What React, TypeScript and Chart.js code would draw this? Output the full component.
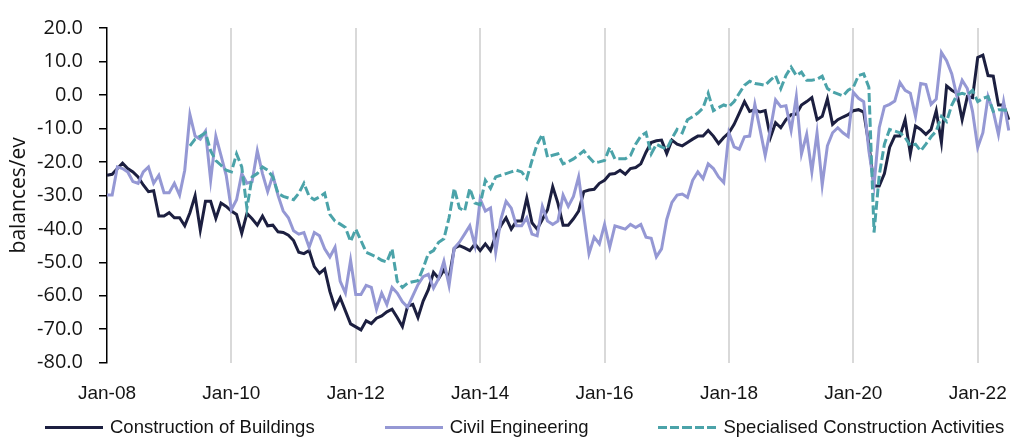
import React, { useEffect, useRef } from "react";
import { Chart, registerables } from "chart.js";

Chart.register(...registerables);

// ---------- categories (monthly, Jan-08 .. Jul-22) ----------
const MONTH_NAMES = ["Jan", "Feb", "Mar", "Apr", "May", "Jun", "Jul", "Aug", "Sep", "Oct", "Nov", "Dec"];
const FIRST_YEAR = 2008;
const MONTH_COUNT = 175;
const categories: string[] = [];
for (let i = 0; i < MONTH_COUNT; i++) {
  const yy = String((FIRST_YEAR + Math.floor(i / 12)) % 100).padStart(2, "0");
  categories.push(`${MONTH_NAMES[i % 12]}-${yy}`);
}
const LABEL_EVERY = 24;

// ---------- series ----------
const seriesNames = ["Construction of Buildings", "Civil Engineering", "Specialised Construction Activities"];

const constructionOfBuildings: (number | null)[] = [
  -24, -23.7, -22, -20.4, -22, -23, -24.5, -26.9, -28.9, -28.6, -36.2, -36.2,
  -35.2, -36.7, -36.7, -39.1, -35.2, -30.1, -40.4, -31.8, -31.8, -36.9, -32.3, -33.3,
  -34.7, -35.7, -41.3, -35.4, -37, -38.9, -36.2, -39.1, -38.9, -40.9, -41.1, -41.9,
  -43.5, -47, -47.4, -46.5, -51.3, -53.3, -52, -58.7, -63.6, -60.6, -64.5, -68.4,
  -69.3, -70.2, -67.5, -68.3, -66.7, -66, -64.8, -64, -66.5, -69.2, -63.1, -62.6,
  -66.5, -61.6, -58.2, -53, -54.8, -52.3, -54.6, -45.8, -45, -45.7, -46.5, -44.5,
  -46.5, -44.5, -46.5, -42, -39.1, -36.7, -40.1, -37.7, -37.7, -30.8, -38.2, -40.1,
  -37.2, -34.3, -27.4, -32.3, -38.9, -38.9, -37, -34.7, -28.9, -28.4, -28.2, -26.4,
  -25.5, -23.7, -23.5, -22.5, -23.7, -22, -21.7, -20.6, -17.1, -14.2, -13.7, -13.5,
  -17.5, -13.5, -14.7, -15.2, -14.2, -13.2, -12.3, -12.3, -10.6, -12.3, -14.5, -12.7,
  -11.3, -8.8, -5.4, -2.0, -4.9, -4.4, -5.1, -4.7, -12.7, -8.3, -9.8, -7.4,
  -5.9, -5.7, -3.0, -2.0, -0.8, -7.4, -6.4, -1.2, -8.8, -7.4, -6.6, -5.9,
  -4.7, -4.4, -5.1, -14.7, -27.2, -27.2, -23.5, -15.7, -12.3, -12.3, -7.4, -17.6,
  -9.3, -10.3, -11.8, -10.3, -4.7, -14.2, 2.7, 1.4, 0.5, -7.4, -0.5, -0.8,
  11.2, 11.9, 5.8, 5.6, -3.0, -3.0, -7.4,
];

const civilEngineering: (number | null)[] = [
  -29.9, -29.9, -21.5, -22, -23, -25.9, -26.4, -23, -21.5, -26.4, -24, -29.2,
  -29.2, -26.4, -29.9, -22.5, -5.9, -12.3, -13.2, -10.8, -25.5, -12.3, -18.1, -24,
  -34.3, -31.3, -23.5, -26.4, -25.9, -16.7, -23.5, -28.9, -24, -30, -34.7, -36.7,
  -40.6, -41.6, -41.1, -45.5, -41.1, -42.1, -46, -48.4, -45.5, -55.7, -59.2, -49.4,
  -59.6, -59.6, -56.9, -57.5, -64, -59.2, -62.6, -57.5, -59.2, -61.8, -63.4, -60,
  -56.7, -54.3, -53.6, -57.7, -54.8, -49.7, -56.9, -45.8, -44, -41.6, -39.1, -45,
  -31.1, -34.7, -33.8, -47, -37.2, -31.8, -33.8, -39.1, -39.1, -36.7, -41.6, -42.1,
  -33.3, -37.7, -38.7, -37.7, -29.9, -33.3, -30.3, -24.5, -36, -47.4, -42.5, -44.5,
  -38.7, -45.5, -39.1, -39.6, -40.1, -38.7, -39.6, -38.7, -42.5, -42.8, -48.4, -46,
  -37.2, -32.1, -29.9, -29.6, -30.6, -25.5, -23, -25, -20.6, -22, -24.5, -26.2,
  -11.3, -15.5, -16.2, -12.5, -12.3, -2.8, -10.3, -18.1, -10.3, -1.5, -3.5, -3.2,
  -10.6, -0.5, -17.6, -11.8, -23, -11.3, -26.9, -15.2, -11.3, -9.8, -11.3, -12.4,
  0.8, -1.0, -2.0, -16.7, -26.9, -9.8, -3.5, -2.8, -1.8, 3.7, 1.4, 0.5,
  -6.4, 3.4, 3.1, -2.8, -1.2, 12.7, 10.2, 6.3, -0.5, 4.4, 1.9, -4.9,
  -15.7, -11.3, -0.5, -4.9, -11.8, -2.0, -10.6,
];

const specialisedActivities: (number | null)[] = [
  null, null, null, null, null, null, null, null, null, null, null, null,
  null, null, null, null, -15.2, -13.2, -12.3, -11.3, -16.7, -19.6, -21, -22.5,
  -23, -17.6, -21.5, -33.8, -24.5, -23.5, -21.5, -22.5, -24.5, -29.4, -30.3, -30.8,
  -31.3, -29.4, -26.4, -30.3, -31.3, -30.5, -29.4, -35.7, -37.7, -38.6, -39.6, -43.8,
  -40.1, -43.5, -47, -47.7, -48.4, -49.4, -49.9, -46, -55.7, -57.5, -56.2, -55.8,
  -55.5, -51.8, -47.4, -46.5, -44, -43, -36.7, -27.9, -33.8, -34.7, -27.9, -32.3,
  -32.8, -25.5, -27.9, -24.5, -24, -23.5, -23, -22.5, -23, -25, -19.6, -14.7,
  -11.8, -18.6, -18, -17.6, -20.6, -20, -19.1, -18, -16.7, -18.6, -20.3, -20,
  -19.6, -15.7, -19.1, -19.1, -19.1, -18.1, -14.7, -12.3, -11.3, -17.6, -14.7, -15.5,
  -16.2, -13, -10.3, -11.3, -7.4, -6.5, -5.4, -3.9, 0.5, -4.7, -3.8, -3.0,
  -3.5, -2.0, 0.5, 2.9, 4.1, 3.4, 3.2, 2.9, 4.4, 5.8, 1.9, 5.8,
  8.3, 5.8, 6.8, 4.4, 4.4, 4.7, 5.6, 1.9, 0.9, 0.3, -0.3, 1.4,
  2.3, 5.8, 6.3, 2.3, -41.1, -24, -14.7, -10.3, -10.8, -11.3, -12.7, -15.2,
  -14.7, -16.7, -14.7, -12.5, -10.8, -6.4, -7.9, -3.0, 0, 0.5, 0, 1.4,
  -2.0, -1.0, -0.5, -4.9, -4.4, -4.5, -4.7,
];

// ---------- axis ----------
const Y_MIN = -80;
const Y_MAX = 20;
const Y_STEP = 10;
const Y_TITLE = "balances/ev";

// ---------- styles ----------
const COLORS = ["#1c1f40", "#9598d4", "#4ba3a9"];
const TEXT = "#141414";
const W = 1011;
const H = 437;

export default function App() {
  const ref = useRef<HTMLCanvasElement | null>(null);

  useEffect(() => {
    if (!ref.current) return;
    const chart = new Chart(ref.current, {
      type: "line",
      data: {
        labels: categories,
        datasets: [
          {
            label: seriesNames[0],
            data: constructionOfBuildings,
            borderColor: COLORS[0],
            backgroundColor: COLORS[0],
            borderWidth: 3,
            pointRadius: 0,
            tension: 0,
            order: 2,
          },
          {
            label: seriesNames[1],
            data: civilEngineering,
            borderColor: COLORS[1],
            backgroundColor: COLORS[1],
            borderWidth: 3,
            pointRadius: 0,
            tension: 0,
            order: 1,
          },
          {
            label: seriesNames[2],
            data: specialisedActivities,
            borderColor: COLORS[2],
            backgroundColor: COLORS[2],
            borderWidth: 3,
            borderDash: [9, 3.5],
            pointRadius: 0,
            tension: 0,
            order: 0,
          },
        ],
      },
      options: {
        responsive: false,
        maintainAspectRatio: false,
        animation: false,
        devicePixelRatio: 1,
        layout: { padding: { left: 6, right: 2.2, top: 22, bottom: 31.5 } },
        plugins: {
          legend: { display: false },
          tooltip: { enabled: false },
        },
        scales: {
          x: {
            type: "category",
            offset: false,
            border: { display: false },
            grid: {
              drawTicks: true,
              tickLength: 20,
              tickColor: "rgba(0,0,0,0)",
              lineWidth: 2,
              color: (ctx: any) =>
                ctx.index > 0 && ctx.index % LABEL_EVERY === 0 ? "#d9d9d9" : "rgba(0,0,0,0)",
            },
            ticks: {
              autoSkip: false,
              maxRotation: 0,
              minRotation: 0,
              padding: 0,
              color: TEXT,
              font: { family: "'Liberation Sans', Arial, sans-serif", size: 19 },
              callback: (_v: any, index: number) => (index % LABEL_EVERY === 0 ? categories[index] : ""),
            },
          },
          y: {
            min: Y_MIN,
            max: Y_MAX,
            border: { display: true, color: "#000", width: 1.5 },
            grid: {
              drawOnChartArea: false,
              drawTicks: true,
              tickLength: 8,
              color: "#000",
              lineWidth: 1.5,
            },
            ticks: {
              stepSize: Y_STEP,
              padding: 16,
              color: TEXT,
              font: { family: "'Open Sans', sans-serif", size: 20 },
              callback: (v: any) => Number(v).toFixed(1),
            },
            title: {
              display: true,
              text: Y_TITLE,
              color: TEXT,
              padding: 0,
              font: { family: "'Open Sans', sans-serif", size: 21, weight: "normal" },
            },
            afterFit: (scale: any) => {
              scale.width = 101;
            },
          },
        },
      },
    } as any);
    return () => chart.destroy();
  }, []);

  const legendLine = (i: number) => {
    const base: React.CSSProperties = { width: 58, height: 3, marginRight: 7, flex: "0 0 auto" };
    if (i === 2) {
      base.background = `repeating-linear-gradient(to right, ${COLORS[2]} 0px, ${COLORS[2]} 9px, transparent 9px, transparent 12.25px)`;
    } else {
      base.background = COLORS[i];
    }
    return <div style={base} />;
  };

  return (
    <div style={{ position: "absolute", left: 0, top: 0, width: W, height: H, background: "#fff" }}>
      <canvas ref={ref} width={W} height={H} style={{ width: W, height: H, display: "block" }} />
      <div
        style={{
          position: "absolute",
          left: 45,
          top: 416,
          height: 22,
          display: "flex",
          alignItems: "center",
          fontFamily: "'Liberation Sans', Arial, sans-serif",
          fontSize: 18.5,
          color: TEXT,
          whiteSpace: "nowrap",
        }}
      >
        {seriesNames.map((name, i) => (
          <div
            key={name}
            style={{ display: "flex", alignItems: "center", marginRight: i < seriesNames.length - 1 ? 70 : 0 }}
          >
            {legendLine(i)}
            <span style={{ lineHeight: "22px" }}>{name}</span>
          </div>
        ))}
      </div>
    </div>
  );
}
